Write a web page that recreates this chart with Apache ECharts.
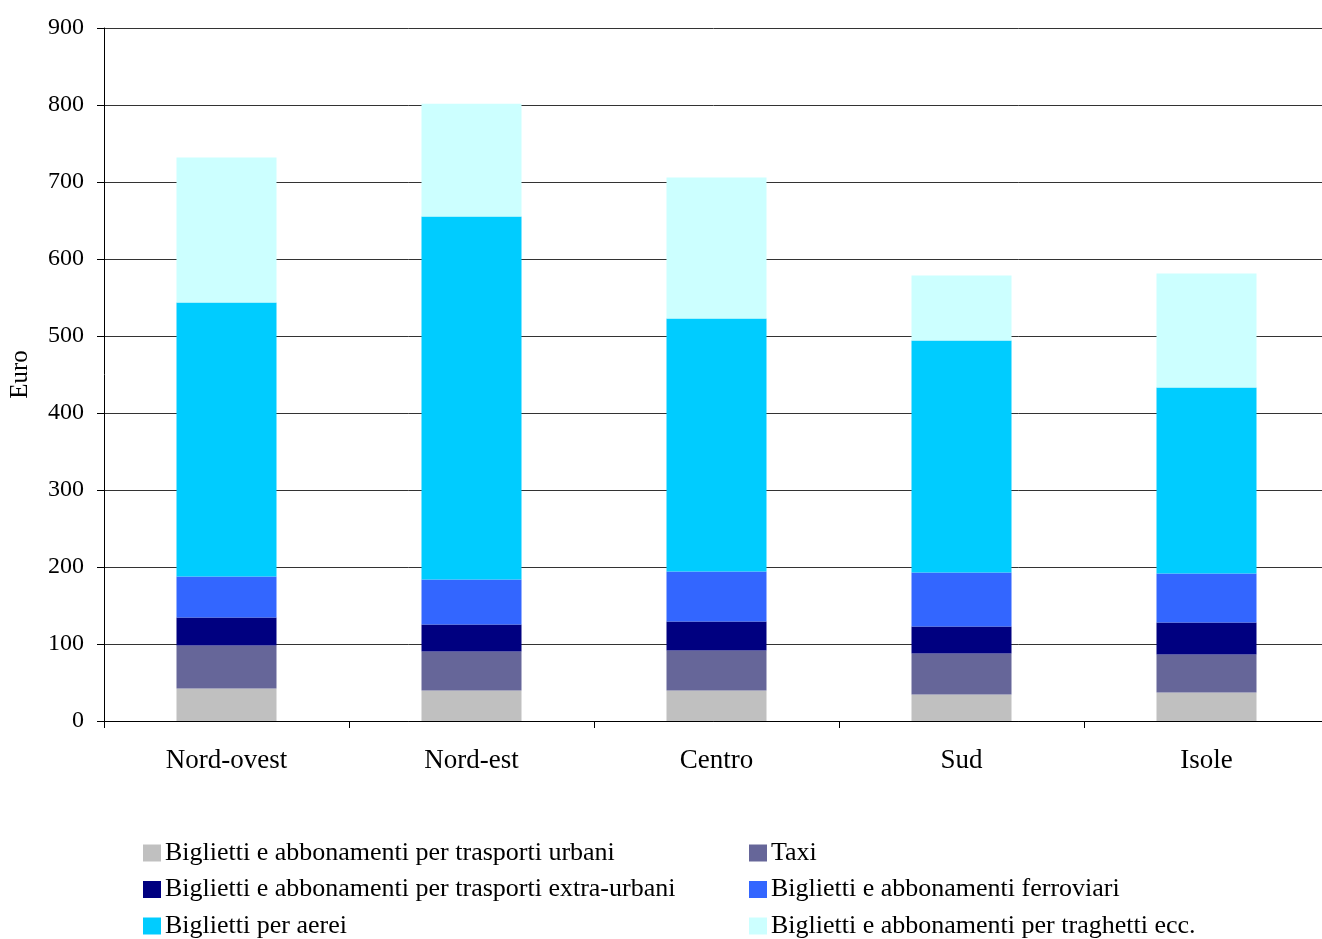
<!DOCTYPE html>
<html>
<head>
<meta charset="utf-8">
<script src="https://cdn.jsdelivr.net/npm/echarts@6/dist/echarts.min.js"></script>
<style>html,body{margin:0;padding:0;background:#fff}#c{width:1322px;height:939px}</style>
</head>
<body>
<div id="c"></div>
<script>
const categories = ['Nord-ovest', 'Nord-est', 'Centro', 'Sud', 'Isole'];
const seriesNames = [
  'Biglietti e abbonamenti per trasporti urbani',
  'Taxi',
  'Biglietti e abbonamenti per trasporti extra-urbani',
  'Biglietti e abbonamenti ferroviari',
  'Biglietti per aerei',
  'Biglietti e abbonamenti per traghetti ecc.'
];
const urbani = [42.2, 39.6, 39.6, 34.4, 37.0];
const taxi = [55.8, 50.7, 52.0, 53.3, 49.4];
const extraUrbani = [36.4, 35.0, 37.6, 35.0, 41.5];
const ferroviari = [53.3, 58.5, 65.0, 70.2, 63.7];
const aerei = [355.8, 471.4, 328.5, 301.3, 241.5];
const traghetti = [188.3, 146.3, 183.1, 84.4, 148.1];
const yTicks = [0, 100, 200, 300, 400, 500, 600, 700, 800, 900];

const values = [urbani, taxi, extraUrbani, ferroviari, aerei, traghetti];
const colors = ['#C0C0C0', '#666699', '#000080', '#3366FF', '#00CCFF', '#CCFFFF'];
const FONT = 'Liberation Serif';

const chart = echarts.init(document.getElementById('c'), null, {renderer: 'canvas'});
const legendBase = {
  orient: 'vertical',
  top: 840,
  itemWidth: 18,
  itemHeight: 17,
  itemGap: 10.5,
  icon: 'rect',
  padding: 0,
  selectedMode: false,
  textStyle: {fontFamily: FONT, fontSize: 26, lineHeight: 26, color: '#000', padding: [0, 0, 0, -1]}
};
chart.setOption({
  animation: false,
  backgroundColor: '#fff',
  textStyle: {fontFamily: FONT},
  grid: {left: 104, right: -7, top: 28, bottom: 218, containLabel: false, outerBoundsMode: 'none'},
  legend: [
    Object.assign({}, legendBase, {left: 143, data: [seriesNames[0], seriesNames[2], seriesNames[4]]}),
    Object.assign({}, legendBase, {left: 749, data: [seriesNames[1], seriesNames[3], seriesNames[5]]})
  ],
  xAxis: {
    type: 'category',
    data: categories,
    axisLine: {lineStyle: {color: '#000', width: 1}},
    axisTick: {show: true, length: 7, lineStyle: {color: '#000'}},
    axisLabel: {fontFamily: FONT, fontSize: 27, color: '#000', margin: 26}
  },
  yAxis: {
    type: 'value',
    min: yTicks[0],
    max: yTicks[yTicks.length - 1],
    interval: 100,
    name: 'Euro',
    nameLocation: 'middle',
    nameRotate: 90,
    nameGap: 71,
    nameTextStyle: {fontFamily: FONT, fontSize: 25, color: '#000'},
    axisLine: {show: true, lineStyle: {color: '#000'}},
    axisTick: {show: true, length: 7, lineStyle: {color: '#000'}},
    axisLabel: {fontFamily: FONT, fontSize: 24, color: '#000', margin: 20},
    splitLine: {show: true, lineStyle: {color: '#333', width: 1}}
  },
  series: seriesNames.map((n, i) => ({
    name: n,
    type: 'bar',
    stack: 'total',
    barWidth: 100,
    data: values[i],
    itemStyle: {color: colors[i]},
    emphasis: {disabled: true}
  }))
});
</script>
</body>
</html>
